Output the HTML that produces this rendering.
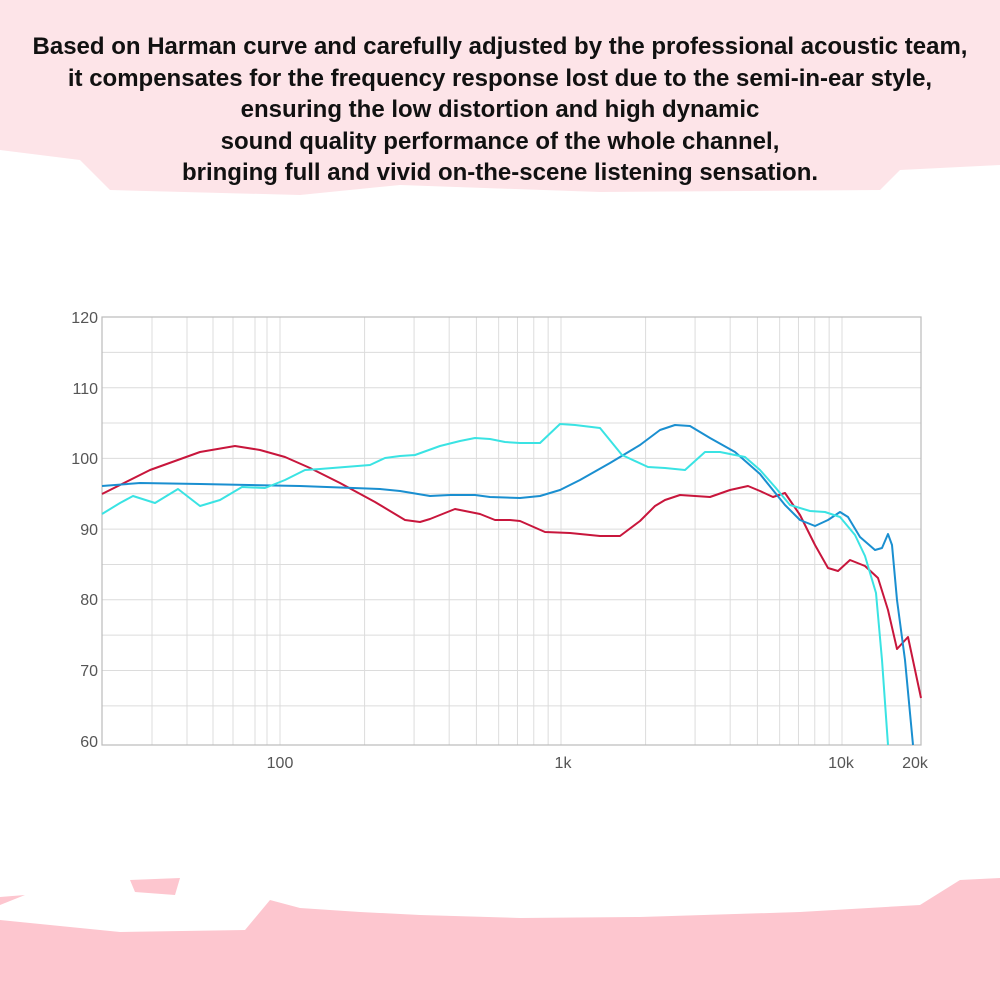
<!DOCTYPE html>
<html><head><meta charset="utf-8"><style>
html,body{margin:0;padding:0;background:#fff;}
body{width:1000px;height:1000px;position:relative;overflow:hidden;font-family:"Liberation Sans",sans-serif;}
.txt{position:absolute;left:0;top:31px;width:1000px;text-align:center;font-weight:bold;font-size:24px;line-height:31.5px;color:#111;}
</style></head><body>
<svg width="1000" height="1000" style="position:absolute;left:0;top:0">
<path d="M0 0H1000V165L900 170 880 190 600 192 400 185 300 195 110 190 80 160 0 150Z" fill="#fde4e8"/>
<path d="M0 80L40 70 0 60Z M0 150L60 140 40 120 0 125Z" fill="#fde4e8"/>
<path d="M0 920L50 925 120 932 245 930 270 900 300 908 360 912 420 915 520 918 640 917 800 912 920 905 960 880 1000 878V1000H0Z" fill="#fdc6cf"/>
<path d="M130 880L180 878 175 895 135 892Z M0 897L25 895 0 905Z" fill="#fdc6cf"/>
<g stroke="#dcdcdc" stroke-width="1" fill="none" id="grid"></g>
<rect x="102" y="317" width="819" height="428" fill="none" stroke="#bbb" stroke-width="1.2"/>
<g font-size="16" fill="#555" text-anchor="end">
<text x="98" y="323">120</text><text x="98" y="394">110</text><text x="98" y="464">100</text>
<text x="98" y="535">90</text><text x="98" y="605">80</text><text x="98" y="676">70</text><text x="98" y="747">60</text>
</g>
<g font-size="16" fill="#555" text-anchor="middle">
<text x="280" y="768">100</text><text x="563" y="768">1k</text><text x="841" y="768">10k</text><text x="915" y="768">20k</text>
</g>
<g fill="none" stroke-width="2" stroke-linejoin="round">
<polyline stroke="#c8163c" points="102,494 150,470 200,452 235,446 260,450 285,457 310,468 340,483 375,502 405,520 420,522 430,519 455,509 480,514 495,520 510,520 520,521 545,532 570,533 600,536 620,536 640,521 655,506 665,500 680,495 710,497 730,490 748,486 760,491 773,497 785,493 800,515 815,545 828,568 838,571 850,560 865,566 878,578 888,610 897,649 908,637 921,698"/>
<polyline stroke="#1a8fd0" points="102,486 140,483 200,484 300,486 380,489 400,491 430,496 450,495 475,495 490,497 520,498 540,496 560,490 580,480 610,463 640,445 660,430 675,425 690,426 710,438 735,452 760,474 785,505 800,520 815,526 828,520 840,512 848,517 860,537 875,550 882,548 888,534 892,545 897,600 905,660 913,745"/>
<polyline stroke="#3ae3e3" points="102,514 120,503 133,496 155,503 178,489 200,506 220,500 242,487 265,488 285,480 305,470 320,469 345,467 370,465 385,458 400,456 415,455 440,446 460,441 475,438 490,439 505,442 520,443 540,443 560,424 575,425 600,428 622,455 648,467 665,468 685,470 705,452 720,452 745,457 760,470 775,487 790,505 810,511 825,512 840,517 855,535 865,556 876,593 882,660 888,745"/>
</g>
</svg>
<div class="txt">Based on Harman curve and carefully adjusted by the professional acoustic team,<br>it compensates for the frequency response lost due to the semi-in-ear style,<br>ensuring the low distortion and high dynamic<br>sound quality performance of the whole channel,<br>bringing full and vivid on-the-scene listening sensation.</div>
<script>
var g=document.getElementById('grid'),s='';
for(var v=115;v>60;v-=5){var y=317+(120-v)*7.07;s+='<line x1="102" x2="921" y1="'+y+'" y2="'+y+'"/>';}
var xs=[152,187,213,233,255,267,280];
[200,300,400,500,600,700,800,900,1000,2000,3000,4000,5000,6000,7000,8000,9000,10000].forEach(function(f){xs.push(280+281*Math.log10(f/100));});
xs.forEach(function(x){s+='<line y1="317" y2="745" x1="'+x+'" x2="'+x+'"/>';});
g.innerHTML=s;
</script>
</body></html>
